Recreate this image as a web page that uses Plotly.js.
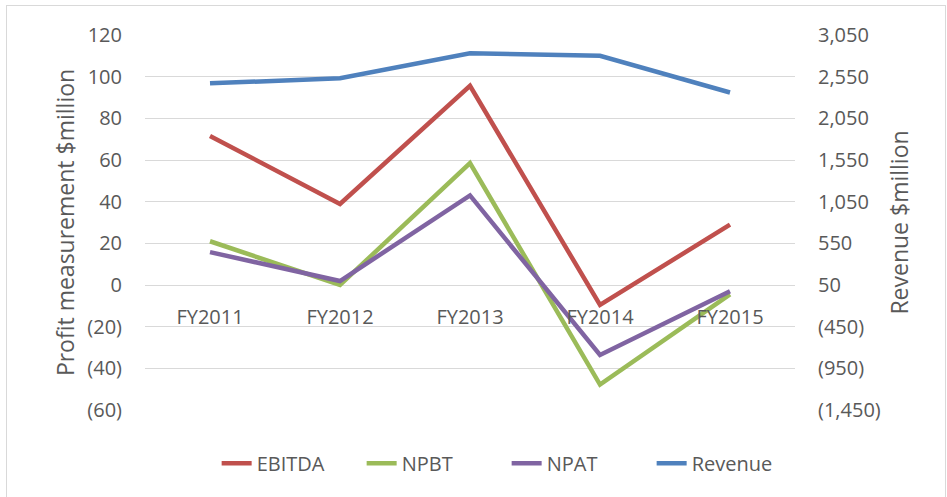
<!DOCTYPE html>
<html><head><meta charset="utf-8">
<script src="https://cdn.plot.ly/plotly-3.0.1.min.js"></script>
<style>
html,body{margin:0;padding:0;background:#fff;}
#wrap{position:relative;width:947px;height:497px;overflow:hidden;}
#chart{position:absolute;left:0;top:0;width:947px;height:497px;}
#frame{position:absolute;left:6px;top:5px;width:938px;height:500px;border:1px solid #d9d9d9;pointer-events:none;}
</style></head>
<body><div id="wrap"><div id="chart"></div><div id="frame"></div></div>
<script>
const categories = ["FY2011","FY2012","FY2013","FY2014","FY2015"];
const ebitda  = [71.5, 38.9, 95.6, -9.6, 29.0];
const npbt    = [21.0, 0.0, 58.5, -47.8, -4.5];
const npat    = [15.8, 1.9, 43.0, -33.6, -3.0];
const revenue = [2470, 2530, 2830, 2800, 2360];
const leftTicks  = [-60,-40,-20,0,20,40,60,80,100,120];
const rightTicks = [-1450,-950,-450,50,550,1050,1550,2050,2550,3050];

function fmt(v){
  const s = Math.abs(v).toLocaleString('en-US');
  return v < 0 ? '(' + s + ')' : s;
}
const FONT = '"Open Sans", Lato, sans-serif';
const GREY = '#595959';

const traces = [
  {name:'EBITDA', x:categories, y:ebitda, color:'#C0504D', yaxis:'y'},
  {name:'NPBT', x:categories, y:npbt, color:'#9BBB59', yaxis:'y'},
  {name:'NPAT', x:categories, y:npat, color:'#8064A2', yaxis:'y'},
  {name:'Revenue', x:categories, y:revenue, color:'#4F81BD', yaxis:'y2'}
].map(t => ({type:'scatter', mode:'lines', name:t.name, x:t.x, y:t.y, yaxis:t.yaxis,
  line:{color:t.color, width:4.5}, hoverinfo:'skip'}));

const layout = {
  width:947, height:497,
  margin:{l:145, r:152, t:35, b:87},
  paper_bgcolor:'#fff', plot_bgcolor:'#fff',
  font:{family:FONT, size:20, color:GREY},
  showlegend:true,
  legend:{orientation:'h', xref:'container', yref:'container', x:0.535, xanchor:'center', y:0.068, yanchor:'middle',
    font:{family:FONT, size:20, color:GREY}, traceorder:'normal', entrywidth:100, entrywidthmode:'pixels'},
  xaxis:{type:'category', range:[-0.5,4.5], anchor:'free', position:1/3, showgrid:false, zeroline:false, showline:false,
    ticks:'', ticklabelstandoff:18, tickfont:{family:FONT, size:20, color:GREY}, fixedrange:true},
  yaxis:{range:[-60,120], tickvals:leftTicks, ticktext:leftTicks.map(fmt), showgrid:true, gridcolor:'#d9d9d9', gridwidth:1,
    zeroline:false, showline:false, ticks:'', ticklabelstandoff:22,
    tickfont:{family:FONT, size:20, color:GREY},
    title:{text:'Profit measurement $million', font:{family:FONT, size:23, color:GREY}, standoff:6}},
  yaxis2:{range:[-1450,3050], overlaying:'y', side:'right', tickvals:rightTicks, ticktext:rightTicks.map(fmt),
    showgrid:false, zeroline:false, showline:false, ticks:'', ticklabelstandoff:22,
    tickfont:{family:FONT, size:20, color:GREY},
    title:{text:'Revenue $million', font:{family:FONT, size:23, color:GREY}, standoff:12}}
};
Plotly.newPlot('chart', traces, layout, {staticPlot:true, displayModeBar:false});
</script></body></html>
